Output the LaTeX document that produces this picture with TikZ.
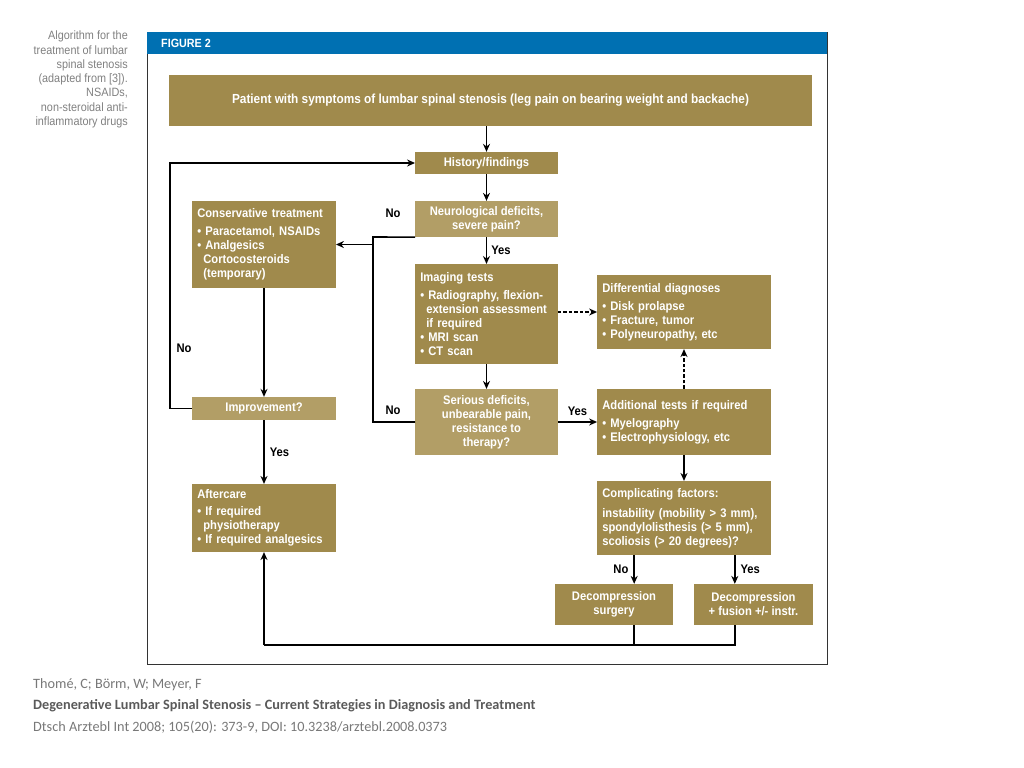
\documentclass[tikz,border=0pt]{standalone}
\usepackage{fontspec}
\setmainfont{Liberation Sans}[FakeStretch=0.9]
\newfontfamily\footfont{Carlito}
\usetikzlibrary{arrows.meta,positioning,calc}
\definecolor{boxdark}{RGB}{160,138,76}
\definecolor{boxlight}{RGB}{178,158,102}
\definecolor{hdrblue}{RGB}{0,112,178}
\definecolor{capgray}{RGB}{128,128,128}
\definecolor{footgray}{RGB}{120,120,120}
\definecolor{footdark}{RGB}{90,90,90}
\hyphenpenalty=10000

\begin{document}
\begin{tikzpicture}[x=1bp, y=-1bp,
  every node/.style={font=\bfseries\fontsize{12.5}{14}\selectfont},
  box/.style={fill=boxdark, text=white, inner xsep=5pt, inner ysep=4pt, align=left},
  qbox/.style={fill=boxlight, text=white, inner xsep=3pt, inner ysep=3pt, align=center},
  lbl/.style={text=black, inner sep=0pt},
  arr/.style={-{Stealth[length=8pt,width=7pt]}, line width=1.6pt},
  link/.style={line width=1.6pt},
  dasharr/.style={-{Stealth[length=8pt,width=7pt]}, line width=1.6pt, dash pattern=on 3.5pt off 2pt}]
  \useasboundingbox (0,0) rectangle (1024,768);
  % --- caption (left) ---
  \node[anchor=north east, align=right, inner sep=0pt, text=capgray,
    font=\fontsize{12.1}{14.3}\selectfont] (caption) at (128,31)
    {Algorithm for the\\treatment of lumbar\\spinal stenosis\\(adapted from [3]).\\NSAIDs,\\non-steroidal anti-\\inflammatory drugs};
  % --- frame and header ---
  \draw[line width=0.8pt, black!80] (147,32) rectangle (827,664);
  \fill[hdrblue] (147,32) rectangle (827,54);
  \node[anchor=west, text=white, inner sep=0pt, font=\bfseries\fontsize{12}{13}\selectfont] (fig) at (161,43.5) {FIGURE 2};
  % --- boxes ---
  \node[box, align=center, minimum width=645, minimum height=51,
    font=\bfseries\fontsize{13.2}{15}\selectfont] (patient) at (490.5,100.5)
    {Patient with symptoms of lumbar spinal stenosis (leg pain on bearing weight and backache)};
  \node[box, align=center, minimum width=143, minimum height=22, inner sep=2pt] (hist) at (486.5,163) {History/findings};
  \node[qbox, minimum width=143, minimum height=36] (neuro) at (486.5,219) {Neurological deficits,\\severe pain?};
  \node[box, text width=133, minimum height=100] (imaging) at (486.5,314)
    {Imaging tests\\[4pt]\textbullet\ Radiography, flexion-\\\phantom{\textbullet\ }\hspace{-2pt}extension assessment\\\phantom{\textbullet\ }\hspace{-2pt}if required\\\textbullet\ MRI scan\\\textbullet\ CT scan};
  \node[qbox, minimum width=143, minimum height=66] (serious) at (486.5,422)
    {Serious deficits,\\unbearable pain,\\resistance to\\therapy?};
  \node[box, text width=134, minimum height=87] (cons) at (264,244.5)
    {Conservative treatment\\[4pt]\textbullet\ Paracetamol, NSAIDs\\\textbullet\ Analgesics\\\phantom{\textbullet\ }\hspace{-2pt}Cortocosteroids\\\phantom{\textbullet\ }\hspace{-2pt}(temporary)};
  \node[qbox, minimum width=144, minimum height=23, inner sep=2pt] (improv) at (264,408.5) {Improvement?};
  \node[box, text width=134, minimum height=68] (after) at (264,518)
    {Aftercare\\[3pt]\textbullet\ If required\\\phantom{\textbullet\ }\hspace{-2pt}physiotherapy\\\textbullet\ If required analgesics};
  \node[box, text width=164, minimum height=74] (diff) at (684,312)
    {Differential diagnoses\\[4pt]\textbullet\ Disk prolapse\\\textbullet\ Fracture, tumor\\\textbullet\ Polyneuropathy, etc};
  \node[box, text width=164, minimum height=66] (addl) at (684,422)
    {Additional tests if required\\[4pt]\textbullet\ Myelography\\\textbullet\ Electrophysiology, etc};
  \node[box, text width=164, minimum height=74] (compl) at (684,518)
    {Complicating factors:\\[6pt]instability (mobility > 3 mm),\\spondylolisthesis (> 5 mm),\\scoliosis (> 20 degrees)?};
  \node[box, align=center, minimum width=118, minimum height=41, inner sep=2pt] (dsurg) at (614,604.5)
    {Decompression\\surgery};
  \node[box, align=center, minimum width=119, minimum height=41, inner sep=2pt] (dfus) at (753.5,604.5)
    {Decompression\\+ fusion +/- instr.};
  % --- main column ---
  \draw[arr] (patient.south -| hist.north) -- (hist);
  \draw[arr] (hist) -- (neuro);
  \draw[arr] (neuro) -- (imaging) node[midway, right=4pt, lbl] (yes1) {Yes};
  \draw[arr] (imaging) -- (serious);
  \draw[arr] (serious.east |- addl.west) -- (addl.west) node[midway, above=6pt, lbl] (yes2) {Yes};
  \draw[dasharr] (imaging.east |- diff.west) -- (diff.west);
  \draw[dasharr] (addl) -- (diff);
  \draw[arr] (addl) -- (compl);
  % --- no branches to conservative treatment ---
  \coordinate (nojoin) at (373,237);
  \draw[link] (neuro.south west) -- (nojoin) -- (nojoin |- serious.west) -- (serious.west);
  \draw[arr] (nojoin |- cons.east) -- (cons.east);
  \node[lbl] (no1) at (393,213) {No};
  \node[lbl] (no2) at (393,410) {No};
  % --- left column ---
  \draw[arr] (cons) -- (improv);
  \draw[arr] (improv) -- (after) node[midway, right=5pt, lbl] (yes3) {Yes};
  \coordinate (loopc) at (170,163);
  \draw[arr] (improv.west) -| (loopc) -- (hist.west);
  \node[lbl] (no3) at (184,348) {No};
  % --- surgery ---
  \draw[arr] ([xshift=-50]compl.south) -- ([xshift=-50]compl.south |- dsurg.north)
    node[midway, left=5pt, lbl] (no4) {No};
  \draw[arr] ([xshift=51]compl.south) -- ([xshift=51]compl.south |- dfus.north)
    node[midway, right=5pt, lbl] (yes4) {Yes};
  \coordinate (bottom) at (264,645);
  \draw[link] ([xshift=20]dsurg.south) -- ([xshift=20]dsurg.south |- bottom);
  \draw[link] ([xshift=-18.5]dfus.south) -- ([xshift=-18.5]dfus.south |- bottom) -- (bottom);
  \draw[arr] (bottom) -- (after.south);
  % --- reference ---
  \node[anchor=west, inner sep=0pt, text=footgray, font=\footfont\fontsize{14.3}{17}\selectfont] (ref1) at (33,685)
    {Thomé, C; Börm, W; Meyer, F};
  \node[anchor=west, inner sep=0pt, text=footdark, font=\footfont\bfseries\fontsize{14.3}{17}\selectfont] (ref2) at (33,706)
    {Degenerative Lumbar Spinal Stenosis – Current Strategies in Diagnosis and Treatment};
  \node[anchor=west, inner sep=0pt, text=footgray, font=\footfont\fontsize{14.3}{17}\selectfont] (ref3) at (33,727)
    {Dtsch Arztebl Int 2008; 105(20): 373-9, DOI: 10.3238/arztebl.2008.0373};
\end{tikzpicture}
\end{document}
